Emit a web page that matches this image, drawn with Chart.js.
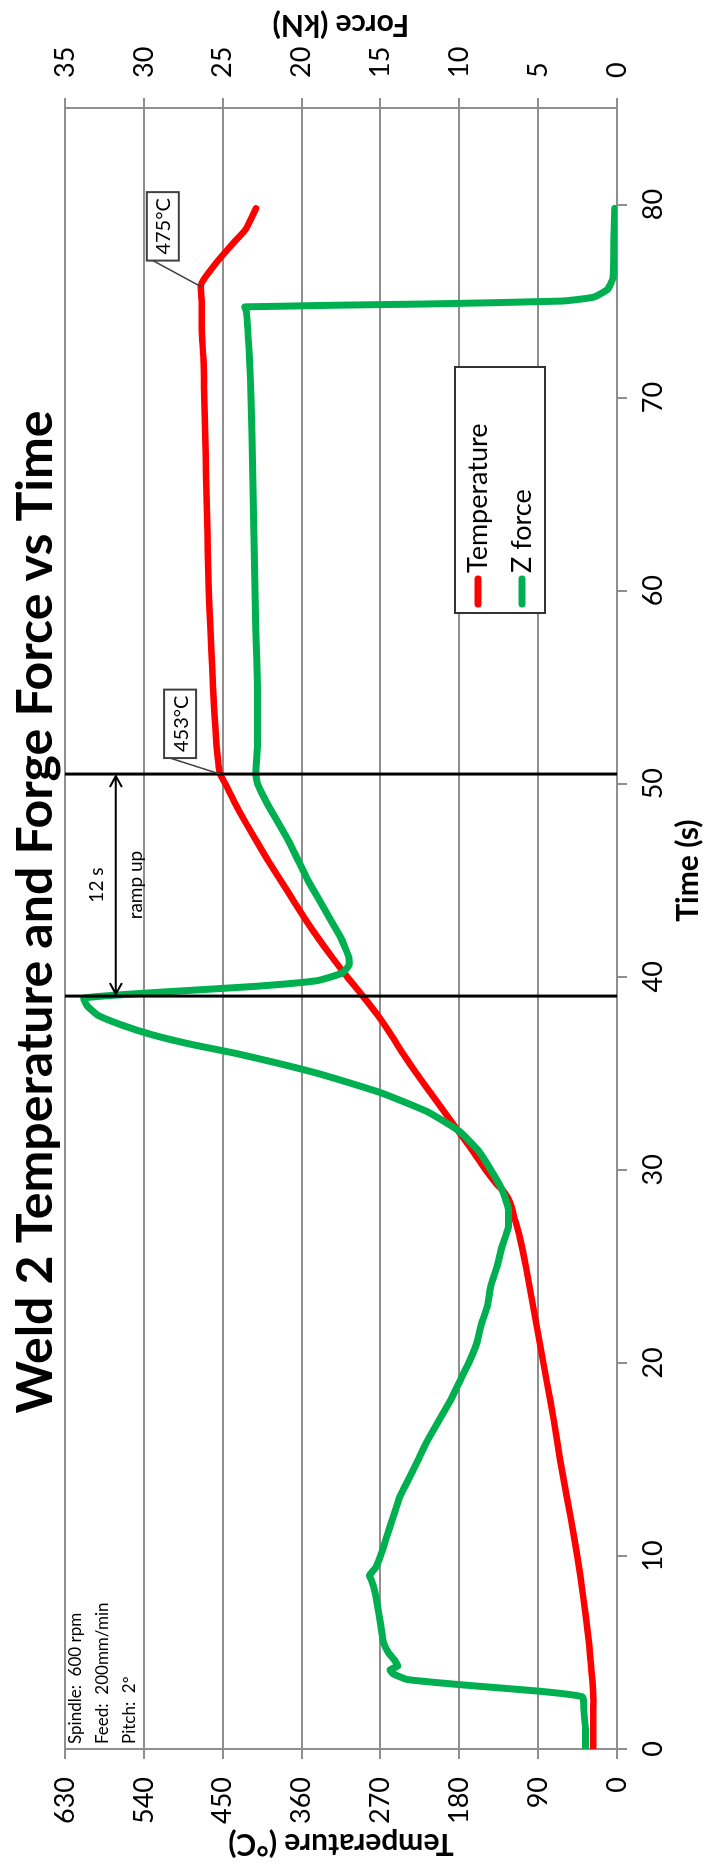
<!DOCTYPE html>
<html>
<head>
<meta charset="utf-8">
<title>Weld 2 Temperature and Forge Force vs Time</title>
<script src="https://cdn.jsdelivr.net/npm/chart.js@4.4.1/dist/chart.umd.min.js"></script>
<style>
  html, body { margin: 0; padding: 0; background: #fff; overflow: hidden; }
  /* The chart is laid out landscape and turned a quarter turn to fit the tall page */
  #wrap {
    position: absolute; left: 0; top: 0;
    width: 1867px; height: 721px;
    transform-origin: 0 0;
    transform: translateY(1867px) rotate(-90deg);
  }
  canvas { display: block; }
</style>
</head>
<body>
<div id="wrap"><canvas id="weld" width="1867" height="721"></canvas></div>
<script>
// Thermocouple temperature (°C) against time (s)
const tempTime = [0, 1, 2, 2.7, 3.5, 4.5, 5.5, 7, 9, 11,
  13, 15, 17, 19, 21, 23, 25, 26.5, 27.5, 28.3,
  28.8, 29.3, 30, 31, 32, 33, 34, 35, 36, 37,
  38, 39, 40, 41, 42, 43, 44, 45, 46, 47,
  48, 49, 50, 50.5, 52, 54, 56, 58, 60, 62,
  64, 66, 68, 70, 72, 73.5, 75, 75.75, 76.1, 77,
  78, 78.7, 79.8];
const tempValues = [27, 27, 27, 27, 28, 30, 32, 36, 42, 49,
  57, 65, 72, 80, 88, 96, 104, 111, 117, 122,
  128, 138, 150, 165, 181, 197, 213, 229, 244, 258,
  273, 290, 308, 325, 341, 356, 370, 384, 398, 411,
  424, 436, 447, 453, 457, 460, 462, 464, 466, 467,
  468, 469, 470, 471, 472, 474, 474, 475, 472, 457,
  438, 424, 412];

// Z (forge) force (kN) against time (s)
const forceTime = [0, 1, 2, 2.7, 3.0, 3.3, 3.6, 3.9, 4.1, 4.3,
  4.6, 5.0, 5.5, 6.5, 7.5, 8.3, 8.8, 9.0, 9.4, 10,
  11, 12, 13, 14, 15, 16, 17, 18, 19, 20,
  21, 22, 23, 24, 25, 26, 27, 28, 29, 30,
  31, 32, 33, 34, 35, 36, 36.5, 37, 37.5, 38,
  38.5, 38.9, 39.2, 39.5, 39.8, 40.2, 40.6, 41, 42, 43,
  44, 45, 46, 47, 48, 49, 50, 50.5, 52, 55,
  58, 62, 66, 70, 72, 74.5, 74.7, 74.85, 75.0, 75.2,
  75.6, 76.2, 78, 79.8];
const forceValues = [2.0, 2.0, 2.1, 2.2, 5.0, 9.5, 13.3, 14.2, 14.4, 13.9,
  14.1, 14.5, 14.8, 15.0, 15.2, 15.4, 15.6, 15.7, 15.3, 15.0,
  14.6, 14.2, 13.8, 13.2, 12.6, 12.0, 11.3, 10.6, 10.0, 9.4,
  8.9, 8.6, 8.2, 8.0, 7.6, 7.3, 6.9, 6.9, 7.3, 8.0,
  8.8, 10.0, 12.0, 15.0, 19.0, 24.0, 27.0, 29.5, 31.4, 32.9,
  33.6, 33.8, 29.0, 23.0, 19.0, 17.4, 17.0, 17.0, 17.5, 18.2,
  18.9, 19.6, 20.2, 20.8, 21.5, 22.2, 22.8, 22.9, 22.8, 22.8,
  22.9, 23.0, 23.1, 23.2, 23.3, 23.5, 23.6, 12.0, 3.5, 1.5,
  0.6, 0.25, 0.2, 0.15];

// Axis ticks
const timeTickValues = [0, 10, 20, 30, 40, 50, 60, 70, 80];
const tempTickValues = [0, 90, 180, 270, 360, 450, 540, 630];
const forceTickValues = [0, 5, 10, 15, 20, 25, 30, 35];

// Ramp-up window and callouts
const rampStart = 39.0;
const rampEnd = 50.5;
const rampLabels = ['12 s', 'ramp up'];
const calloutTimes = [50.5, 75.75];
const calloutTemps = [453, 475];
const weldSettings = ['Spindle:  600 rpm', 'Feed:  200mm/min', 'Pitch:  2º'];
const seriesNames = ['Temperature', 'Z force'];
const seriesColors = ['#ff0000', '#00b050'];

const FONT = 'Lato, "Open Sans", sans-serif';
const GRID = '#8f8f8f';

Chart.defaults.font.family = FONT;
Chart.defaults.color = '#000';

const toPoints = (xs, ys) => xs.map((t, i) => ({ x: t, y: ys[i] }));

const decor = {
  id: 'decor',
  afterDatasetsDraw(chart) {
    const { ctx, chartArea: a, scales: { x, y } } = chart;
    ctx.save();

    // ramp-up markers
    const x0 = x.getPixelForValue(rampStart);
    const x1 = x.getPixelForValue(rampEnd);
    ctx.strokeStyle = '#000';
    ctx.lineWidth = 3;
    ctx.beginPath();
    ctx.moveTo(x0, a.top); ctx.lineTo(x0, a.bottom);
    ctx.moveTo(x1, a.top); ctx.lineTo(x1, a.bottom);
    ctx.stroke();

    // double-headed arrow between them
    const ay = y.getPixelForValue(572);
    ctx.lineWidth = 2;
    ctx.beginPath();
    ctx.moveTo(x0 + 2, ay); ctx.lineTo(x1 - 2, ay);
    ctx.moveTo(x0 + 13, ay - 6); ctx.lineTo(x0 + 2, ay); ctx.lineTo(x0 + 13, ay + 6);
    ctx.moveTo(x1 - 13, ay - 6); ctx.lineTo(x1 - 2, ay); ctx.lineTo(x1 - 13, ay + 6);
    ctx.stroke();
    ctx.fillStyle = '#000';
    ctx.font = '19px ' + FONT;
    ctx.textAlign = 'center';
    ctx.textBaseline = 'middle';
    ctx.fillText(rampLabels[0], (x0 + x1) / 2, ay - 19);
    ctx.fillText(rampLabels[1], (x0 + x1) / 2, ay + 20);

    // value callouts with leader lines
    ctx.font = '20px ' + FONT;
    ctx.textAlign = 'left';
    calloutTimes.forEach((t, i) => {
      const px = x.getPixelForValue(t);
      const py = y.getPixelForValue(calloutTemps[i]);
      const label = calloutTemps[i] + '°C';
      const w = ctx.measureText(label).width + 12;
      const bx = px + (i === 0 ? 16 : 26);
      const by = py - (i === 0 ? 56 : 54);
      ctx.strokeStyle = '#404040';
      ctx.lineWidth = 1.5;
      ctx.beginPath();
      ctx.moveTo(px, py); ctx.lineTo(bx, by + 6);
      ctx.stroke();
      ctx.fillStyle = '#fff';
      ctx.fillRect(bx, by, w, 32);
      ctx.lineWidth = 2;
      ctx.strokeRect(bx, by, w, 32);
      ctx.fillStyle = '#000';
      ctx.fillText(label, bx + 6, by + 17);
    });

    // weld settings text
    ctx.font = '17px ' + FONT;
    weldSettings.forEach((line, i) => {
      ctx.fillText(line, a.left + 5, a.top + 11 + i * 27);
    });
    ctx.restore();
  },
  afterDraw(chart) {
    const { ctx, chartArea: a, scales: { x } } = chart;
    ctx.save();
    ctx.fillStyle = '#000';

    // chart title
    ctx.font = 'bold 50px ' + FONT;
    ctx.textAlign = 'center';
    ctx.textBaseline = 'alphabetic';
    ctx.fillText('Weld 2 Temperature and Forge Force vs Time', 955, 52);

    // time axis title
    ctx.font = 'bold 30px ' + FONT;
    ctx.textBaseline = 'middle';
    ctx.fillText('Time (s)', x.getPixelForValue(45.5), 688);

    // secondary axis title
    ctx.translate(1842, (a.top + a.bottom) / 2);
    ctx.rotate(-Math.PI / 2);
    ctx.fillText('Force (kN)', 0, 0);
    ctx.restore();

    // legend box
    ctx.save();
    const lx = 1254, ly = 455, lw = 246, lh = 90;
    ctx.fillStyle = '#fff';
    ctx.fillRect(lx, ly, lw, lh);
    ctx.strokeStyle = '#333';
    ctx.lineWidth = 2;
    ctx.strokeRect(lx, ly, lw, lh);
    ctx.font = '27px ' + FONT;
    ctx.textAlign = 'left';
    ctx.textBaseline = 'middle';
    seriesNames.forEach((name, i) => {
      const ry = ly + 23 + i * 44;
      ctx.strokeStyle = seriesColors[i];
      ctx.lineWidth = 7;
      ctx.lineCap = 'round';
      ctx.beginPath();
      ctx.moveTo(lx + 9, ry); ctx.lineTo(lx + 34, ry);
      ctx.stroke();
      ctx.fillStyle = '#000';
      ctx.fillText(name, lx + 40, ry);
    });
    ctx.restore();
  }
};

new Chart(document.getElementById('weld'), {
  type: 'line',
  data: {
    datasets: [
      {
        label: seriesNames[0],
        data: toPoints(tempTime, tempValues),
        yAxisID: 'y',
        borderColor: seriesColors[0],
        backgroundColor: seriesColors[0],
        borderWidth: 6.5,
        pointRadius: 0,
        tension: 0.2,
        borderCapStyle: 'round',
        borderJoinStyle: 'round',
        order: 1
      },
      {
        label: seriesNames[1],
        data: toPoints(forceTime, forceValues),
        yAxisID: 'y2',
        borderColor: seriesColors[1],
        backgroundColor: seriesColors[1],
        borderWidth: 7,
        pointRadius: 0,
        tension: 0.15,
        borderCapStyle: 'round',
        borderJoinStyle: 'round',
        order: 0
      }
    ]
  },
  options: {
    responsive: false,
    animation: false,
    devicePixelRatio: 1,
    layout: { padding: { top: 65, left: 0, right: 0, bottom: 0 } },
    plugins: {
      legend: { display: false },
      title: { display: false },
      tooltip: { enabled: false }
    },
    scales: {
      x: {
        type: 'linear',
        position: 'bottom',
        min: 0,
        max: 85,
        afterBuildTicks: s => { s.ticks = timeTickValues.map(v => ({ value: v })); },
        afterFit: s => { s.height = 104; },
        ticks: { font: { size: 27 }, padding: 10, maxRotation: 0 },
        grid: { drawOnChartArea: false, drawTicks: true, tickLength: 10, color: GRID, lineWidth: 2 },
        border: { display: true, color: GRID, width: 2 }
      },
      y: {
        type: 'linear',
        position: 'left',
        min: 0,
        max: 630,
        afterBuildTicks: s => { s.ticks = tempTickValues.map(v => ({ value: v })); },
        afterFit: s => { s.width = 118; },
        ticks: { font: { size: 27 }, padding: 18 },
        grid: { drawOnChartArea: true, drawTicks: true, tickLength: 10, color: GRID, lineWidth: 2 },
        border: { display: true, color: GRID, width: 2 },
        title: { display: true, text: 'Temperature (°C)', font: { size: 30, weight: 'bold' }, padding: { top: 5, bottom: 0 } }
      },
      y2: {
        type: 'linear',
        position: 'right',
        min: 0,
        max: 35,
        afterBuildTicks: s => { s.ticks = forceTickValues.map(v => ({ value: v })); },
        afterFit: s => { s.width = 108; },
        ticks: { font: { size: 27 }, padding: 20 },
        grid: { drawOnChartArea: false, drawTicks: true, tickLength: 10, color: GRID, lineWidth: 2 },
        border: { display: true, color: GRID, width: 2 }
      }
    }
  },
  plugins: [decor]
});
</script>
</body>
</html>
